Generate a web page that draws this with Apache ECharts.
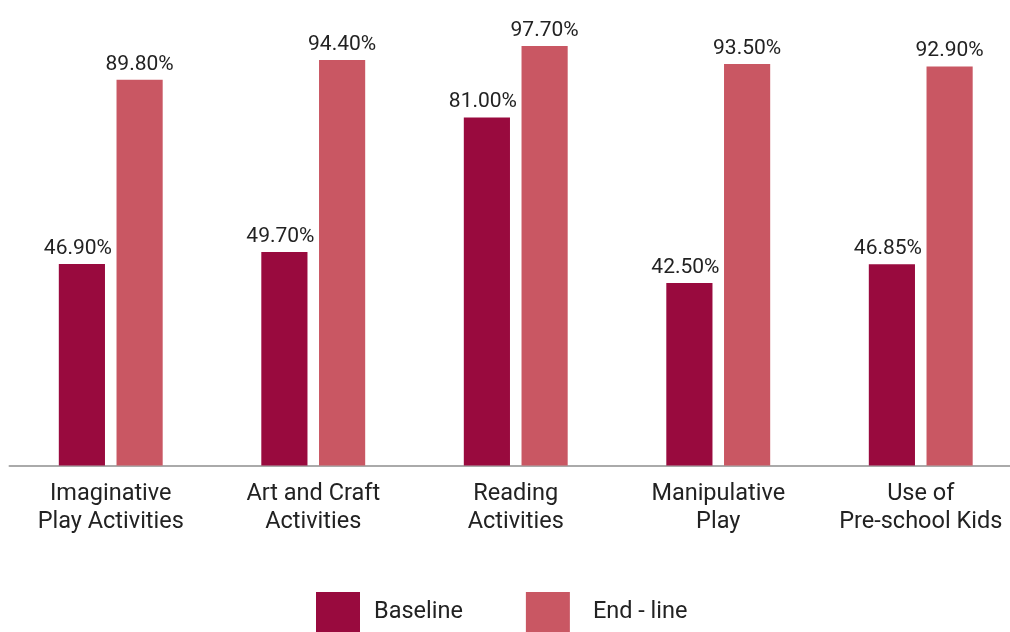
<!DOCTYPE html>
<html><head><meta charset="utf-8">
<script src="https://cdn.jsdelivr.net/npm/echarts@6/dist/echarts.min.js"></script>
<style>html,body{margin:0;padding:0;background:#fff;overflow:hidden}#c{width:1023px;height:632px}</style>
</head><body><div id="c"></div>
<script>
const categories = ['Imaginative\nPlay Activities','Art and Craft\nActivities','Reading\nActivities','Manipulative\nPlay','Use of\nPre-school Kids'];
const baseline = [46.90, 49.70, 81.00, 42.50, 46.85];
const endline = [89.80, 94.40, 97.70, 93.50, 92.90];
const seriesNames = ['Baseline','End - line'];
const colors = ['#990a3e','#c95763'];

const chart = echarts.init(document.getElementById('c'));
const lbl = {show:true, position:'top', distance:5, fontFamily:'Roboto', fontSize:21, color:'#222', formatter: p => p.value.toFixed(2) + '%'};
chart.setOption({
  animation:false,
  grid:{left:9.5, top:36, width:1012.5, height:429.5, containLabel:false},
  legend:{data:[{name:seriesNames[0]},{name:seriesNames[1], textStyle:{padding:[0,0,0,18]}}],
    top:592, left:316, padding:0, itemWidth:44, itemHeight:40, itemGap:63, icon:'rect',
    textStyle:{fontFamily:'Roboto', fontSize:23.5, color:'#222', padding:[0,0,0,9]}},
  xAxis:{type:'category', data:categories,
    axisLine:{lineStyle:{color:'#aaa', width:2}}, axisTick:{show:false},
    axisLabel:{fontFamily:'Roboto', fontSize:23.5, color:'#222', lineHeight:28, margin:15, interval:0}},
  yAxis:{type:'value', min:0, max:100, show:false},
  series:[
    {name:seriesNames[0], type:'bar', data:baseline, barWidth:'22.8%', barGap:'25%', itemStyle:{color:colors[0]}, label:Object.assign({}, lbl, {offset:[-4,0]})},
    {name:seriesNames[1], type:'bar', data:endline, barWidth:'22.8%', barGap:'25%', itemStyle:{color:colors[1]}, label:lbl}
  ]
});
</script></body></html>
